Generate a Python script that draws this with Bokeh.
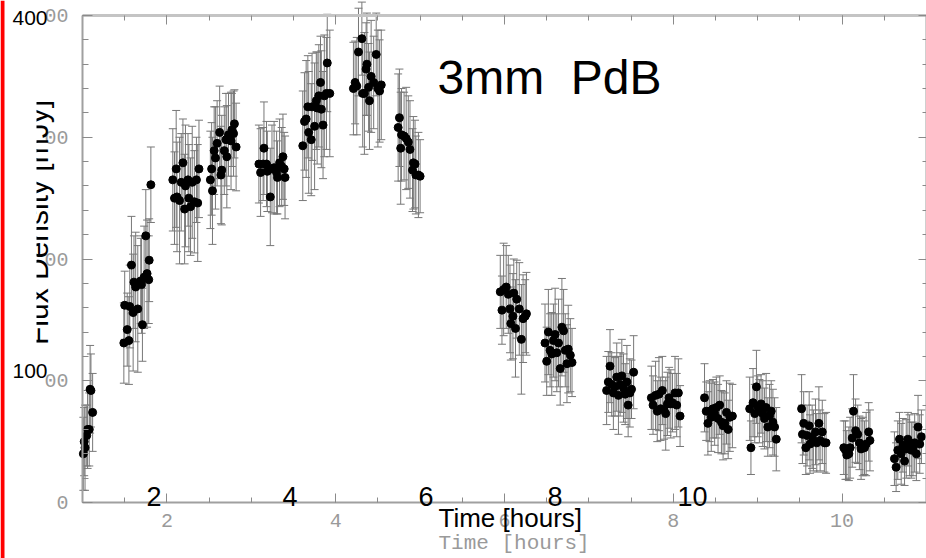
from math import pi
import numpy as np
from bokeh.plotting import figure
from bokeh.models import (ColumnDataSource, Whisker, TeeHead, LinearAxis, FixedTicker,
                          Label, BoxAnnotation, Range1d)
from bokeh.embed import file_html
from bokeh.resources import INLINE

# ---------------- data (one line per scan) ----------------
time_hours = [
    1.01, 1.02, 1.03, 1.05, 1.06, 1.08, 1.09, 1.10, 1.12,
    1.49, 1.53, 1.55, 1.50, 1.56, 1.58, 1.60, 1.61, 1.63, 1.655, 1.69, 1.70, 1.71, 1.73, 1.75, 1.765, 1.785, 1.79, 1.81,
    2.07, 2.11, 2.09, 2.12, 2.15, 2.17, 2.19, 2.21, 2.22, 2.25, 2.26, 2.28, 2.30, 2.325, 2.35, 2.365, 2.38,
    2.515, 2.53, 2.54, 2.56, 2.575, 2.595, 2.625, 2.65, 2.64, 2.68, 2.71, 2.70, 2.73, 2.76, 2.77, 2.79, 2.80, 2.82,
    3.09, 3.11, 3.15, 3.14, 3.18, 3.19, 3.225, 3.245, 3.27, 3.30, 3.31, 3.335, 3.36, 3.375, 3.39, 3.40,
    3.61, 3.63, 3.65, 3.67, 3.68, 3.71, 3.72, 3.75, 3.77, 3.78, 3.80, 3.82, 3.83, 3.85, 3.865, 3.89, 3.90, 3.93,
    4.21, 4.23, 4.25, 4.27, 4.31, 4.32, 4.34, 4.36, 4.37, 4.39, 4.40, 4.42, 4.45, 4.48, 4.50, 4.52, 4.54,
    4.74, 4.755, 4.78, 4.77, 4.81, 4.835, 4.86, 4.88, 4.91, 4.92, 4.94, 4.95, 4.98, 5.00,
    5.95, 5.97, 5.99, 6.02, 6.045, 6.065, 6.075, 6.10, 6.11, 6.13, 6.145, 6.175, 6.20, 6.22, 6.245, 6.26,
    6.48, 6.50, 6.52, 6.54, 6.56, 6.58, 6.60, 6.62, 6.64, 6.66, 6.68, 6.70, 6.72, 6.74, 6.755, 6.78, 6.80,
    7.21, 7.23, 7.25, 7.27, 7.29, 7.31, 7.33, 7.35, 7.37, 7.39, 7.41, 7.43, 7.45, 7.465, 7.485, 7.505, 7.53,
    7.74, 7.76, 7.79, 7.81, 7.83, 7.85, 7.87, 7.89, 7.91, 7.93, 7.95, 7.97, 7.99, 8.02, 8.04, 8.06, 8.08,
    8.37, 8.39, 8.41, 8.43, 8.45, 8.47, 8.49, 8.51, 8.53, 8.55, 8.57, 8.59, 8.61, 8.63, 8.65, 8.67, 8.70,
    8.905, 8.92, 8.945, 8.965, 8.985, 9.00, 9.02, 9.04, 9.06, 9.08, 9.10, 9.12, 9.14, 9.16, 9.18, 9.20, 9.22,
    9.52, 9.53, 9.545, 9.57, 9.585, 9.61, 9.62, 9.645, 9.66, 9.685, 9.70, 9.725, 9.74, 9.765, 9.79, 9.81,
    10.02, 10.04, 10.055, 10.08, 10.095, 10.12, 10.135, 10.16, 10.185, 10.205, 10.225, 10.245, 10.265, 10.285, 10.315, 10.33,
    10.62, 10.64, 10.66, 10.68, 10.70, 10.72, 10.74, 10.76, 10.78, 10.80, 10.82, 10.84, 10.86, 10.88, 10.90, 10.92, 10.94,
]
flux_mjy = [
    40, 50, 45, 55, 60, 60, 93, 92, 74,
    131, 142, 133, 162, 161, 195, 156, 181, 177, 159, 182, 179, 146, 185, 219, 188, 183, 199, 261,
    265, 274, 250, 251, 248, 263, 279, 241, 260, 265, 250, 243, 263, 247, 265, 246, 274,
    265, 274, 256, 289, 283, 295, 304, 273, 269, 289, 284, 298, 302, 297, 306, 303, 311, 292,
    278, 271, 291, 278, 278, 272, 251, 274, 275, 271, 267, 279, 276, 284, 274, 267,
    293, 313, 315, 325, 304, 298, 325, 309, 330, 324, 334, 345, 323, 310, 334, 336, 361, 336,
    340, 345, 342, 370, 381, 336, 336, 356, 360, 341, 330, 350, 345, 368, 340, 338, 343,
    308, 316, 302, 291, 301, 299, 296, 290, 273, 279, 278, 269, 269, 268,
    173, 158, 175, 177, 171, 159, 147, 153, 172, 143, 167, 159, 134, 151, 153, 155,
    131, 116, 140, 125, 122, 133, 138, 123, 131, 110, 144, 141, 125, 114, 126, 121, 115,
    92, 99, 112, 97, 90, 95, 103, 88, 97, 104, 94, 89, 99, 80, 90, 93, 107,
    86, 80, 88, 75, 89, 77, 92, 76, 73, 81, 86, 81, 82, 90, 80, 90, 71,
    86, 75, 65, 75, 70, 77, 73, 78, 69, 80, 66, 63, 65, 74, 60, 70, 71,
    77, 45, 82, 73, 95, 79, 75, 81, 73, 69, 78, 62, 71, 75, 66, 62, 52,
    77, 56, 65, 45, 55, 63, 48, 54, 51, 58, 49, 65, 51, 58, 49, 49,
    45, 43, 39, 40, 45, 53, 75, 59, 56, 49, 44, 46, 45, 48, 58, 51,
    36, 29, 43, 52, 40, 47, 34, 44, 52, 47, 43, 44, 49, 40, 62, 48, 54,
]
flux_err = [
    30, 28, 35, 25, 32, 30, 36, 30, 32,
    33, 30, 36, 28, 34, 40, 48, 38, 45, 52, 35, 40, 30, 42, 38, 44, 36, 34, 31,
    42, 48, 38, 45, 52, 40, 36, 45, 50, 38, 44, 40, 46, 42, 35, 48, 40,
    40, 38, 44, 36, 42, 35, 38, 45, 40, 36, 42, 38, 34, 40, 30, 35, 28, 36,
    32, 36, 38, 30, 35, 33, 40, 36, 38, 34, 30, 36, 32, 35, 30, 34,
    45, 40, 48, 42, 50, 46, 44, 52, 40, 46, 42, 38, 48, 44, 50, 46, 40, 52,
    38, 34, 40, 36, 30, 44, 50, 38, 42, 36, 40, 46, 38, 34, 48, 42, 45,
    44, 40, 38, 46, 36, 42, 38, 40, 34, 38, 36, 32, 35, 30,
    30, 28, 38, 34, 32, 36, 30, 35, 28, 40, 32, 38, 45, 36, 30, 34,
    32, 28, 35, 30, 34, 30, 38, 32, 36, 30, 40, 34, 30, 32, 36, 30, 28,
    28, 25, 30, 26, 30, 24, 28, 32, 26, 30, 28, 25, 30, 26, 28, 24, 30,
    26, 24, 28, 25, 30, 26, 28, 24, 30, 26, 25, 28, 24, 30, 26, 28, 25,
    28, 24, 26, 25, 28, 24, 26, 25, 28, 24, 26, 28, 25, 26, 24, 28, 26,
    26, 22, 28, 24, 30, 25, 26, 24, 27, 25, 28, 24, 26, 25, 27, 24, 26,
    28, 24, 26, 22, 25, 28, 24, 26, 25, 27, 24, 30, 25, 26, 24, 25,
    22, 24, 20, 22, 25, 24, 30, 26, 24, 22, 25, 24, 22, 26, 24, 25,
    22, 20, 24, 22, 25, 22, 20, 24, 22, 25, 23, 22, 24, 22, 26, 24, 22,
]

x_tick_values = [2, 4, 6, 8, 10]
x_tick_labels = ["2", "4", "6", "8", "10"]
y_tick_values = [0, 100, 200, 300, 400]
y_tick_labels = ["0", "00", "00", "00", "00"]
x_axis_title = "Time [hours]"
y_axis_title = "Flux Density [mJy]"
overlay_x_labels = ["2", "4", "6", "8", "10"]
overlay_y_labels = ["400", "100"]
overlay_title = "3mm\u00a0\u00a0PdB"

# ---------------- layout ----------------
W, H = 926, 558
PL, PR, PT, PB = 82, 926, 15, 502          # plot box in pixels
XD0, XD1, YD0, YD1 = 1.0, 11.0, 0.0, 400.0  # plot box in data units
SX = (PR - PL) / (XD1 - XD0)
SY = (PB - PT) / (YD1 - YD0)
BASE_SHIFT = 0.34  # em: where the renderer puts the alphabetic baseline


def px_t(px):
    return XD0 + (px - PL) / SX


def py_f(py):
    return YD0 + (PB - py) / SY


p = figure(width=W, height=H, output_backend="svg", toolbar_location=None,
           x_range=Range1d(px_t(0), px_t(W)), y_range=Range1d(py_f(H), py_f(0)),
           min_border=0)
p.title.visible = False
p.grid.visible = False
p.outline_line_color = None
p.background_fill_color = "white"
p.border_fill_color = "white"

x_minor = list(np.arange(1.0, 11.01, 0.5))
y_minor = list(np.arange(0, 401, 20))
GRAY_TXT = "#9a9a9a"
AX = "#8a8a8a"


def style_axis(ax, tick_in, minor_in, line_color="#a0a0a0", line_width=2):
    ax.major_tick_in = tick_in
    ax.major_tick_out = 0
    ax.minor_tick_in = minor_in
    ax.minor_tick_out = 0
    ax.major_tick_line_color = AX
    ax.minor_tick_line_color = AX
    ax.axis_line_color = line_color
    ax.axis_line_width = line_width
    ax.major_label_text_font = "Liberation Mono"
    ax.major_label_text_font_size = "20px"
    ax.major_label_text_color = GRAY_TXT


# bottom gray axis
xb = p.xaxis[0]
xb.fixed_location = YD0
xb.bounds = (XD0, XD1)
xb.ticker = FixedTicker(ticks=x_tick_values, minor_ticks=x_minor)
xb.major_label_overrides = {v: s for v, s in zip(x_tick_values, x_tick_labels)}
style_axis(xb, 9, 5)
xb.major_label_standoff = 11

# left gray axis
yl = p.yaxis[0]
yl.fixed_location = XD0
yl.bounds = (YD0, YD1)
yl.ticker = FixedTicker(ticks=y_tick_values, minor_ticks=y_minor)
yl.major_label_overrides = {v: s for v, s in zip(y_tick_values, y_tick_labels)}
style_axis(yl, 10, 6)
yl.major_label_standoff = 14

# top and right frame axes (ticks only)
for minors, length, lc, lw in ((x_minor, 5, "#c4c4c4", 3), (x_tick_values, 9, None, 1)):
    ax = LinearAxis(fixed_location=YD1, bounds=(XD0, XD1),
                    ticker=FixedTicker(ticks=[], minor_ticks=minors))
    style_axis(ax, 0, length, lc, lw)
    p.add_layout(ax, "above")

for minors, length, lc in ((y_minor, 4, "#a0a0a0"), (y_tick_values, 8, None)):
    ax = LinearAxis(fixed_location=XD1, bounds=(YD0, YD1),
                    ticker=FixedTicker(ticks=[], minor_ticks=minors))
    style_axis(ax, 0, length, lc, 2)
    p.add_layout(ax, "right")

# ---------------- data marks ----------------
src = ColumnDataSource(dict(
    t=time_hours, f=flux_mjy,
    lo=[a - b for a, b in zip(flux_mjy, flux_err)],
    hi=[a + b for a, b in zip(flux_mjy, flux_err)],
))
BAR = "#777777"
wh = Whisker(source=src, base="t", lower="lo", upper="hi", dimension="height",
             line_color=BAR, line_width=1, level="underlay",
             upper_head=TeeHead(size=8, line_color=BAR, line_width=1),
             lower_head=TeeHead(size=8, line_color=BAR, line_width=1))
p.add_layout(wh)
p.scatter("t", "f", source=src, size=8, color="black")


# ---------------- texts ----------------
def label(text, px, py, size, font="Liberation Sans", color="black", align="left", rotated=False):
    shift = BASE_SHIFT * size
    if rotated:
        x, y, angle = px - shift, py, pi / 2
    else:
        x, y, angle = px, py - shift, 0.0
    p.add_layout(Label(x=px_t(x), y=py_f(y), text=text, angle=angle,
                       text_align=align, text_baseline="alphabetic",
                       text_font=font, text_font_size=f"{size}px", text_color=color))


label(x_axis_title, 438, 550, 21, font="Liberation Mono", color=GRAY_TXT)

p.add_layout(BoxAnnotation(left=px_t(0), right=px_t(4), bottom=py_f(H), top=py_f(0),
                           fill_color="#ff0000", fill_alpha=1, line_color=None))
label(y_axis_title, 47, 222, 30, align="center", rotated=True)
p.add_layout(BoxAnnotation(left=px_t(5), right=px_t(36), bottom=py_f(362), top=py_f(60),
                           fill_color="white", fill_alpha=1, line_color=None))

for txt, py in zip(overlay_y_labels, [25, 378]):
    label(txt, 12, py, 21)
for txt, px in zip(overlay_x_labels, [153.5, 289.5, 425.5, 554.5, 692]):
    label(txt, px, 505, 27, align="center")
label(x_axis_title, 438, 526, 26)
label(overlay_title, 437, 93, 48)

open("out.html", "w").write(file_html(p, INLINE))
